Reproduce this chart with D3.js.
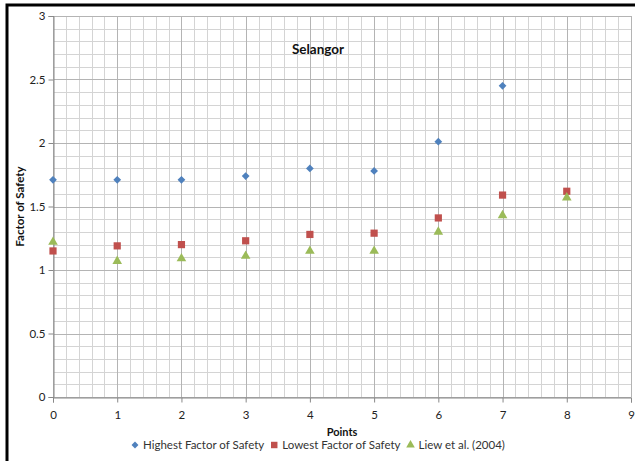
<!DOCTYPE html>
<html>
<head>
<meta charset="utf-8">
<script src="https://cdn.jsdelivr.net/npm/d3@7"></script>
<style>
  html, body { margin: 0; padding: 0; background: #fff; }
  svg { display: block; font-family: Lato, "Open Sans", sans-serif; }
</style>
</head>
<body>
<svg id="chart" width="635" height="461"></svg>
<script>
// Sample points along the survey line
const points = [0, 1, 2, 3, 4, 5, 6, 7, 8];
// Highest factor of safety (no value at point 8)
const highestFoS = [1.71, 1.71, 1.71, 1.74, 1.80, 1.78, 2.01, 2.45, null];
// Lowest factor of safety
const lowestFoS = [1.15, 1.19, 1.20, 1.23, 1.28, 1.29, 1.41, 1.59, 1.62];
// Liew et al. (2004)
const liewFoS = [1.22, 1.07, 1.09, 1.11, 1.15, 1.15, 1.30, 1.43, 1.57];

const xTicks = [0, 1, 2, 3, 4, 5, 6, 7, 8, 9];
const yTicks = [0, 0.5, 1, 1.5, 2, 2.5, 3];
const seriesNames = ["Highest Factor of Safety", "Lowest Factor of Safety", "Liew et al. (2004)"];

const svg = d3.select("#chart");
const plot = { left: 53, right: 631, top: 16, bottom: 397 };

const x = d3.scaleLinear().domain([0, 9]).range([plot.left, plot.right]);
const y = d3.scaleLinear().domain([0, 3]).range([plot.bottom, plot.top]);

// Chart frame (thick border along the top and left edge)
svg.append("rect").attr("x", 7).attr("y", 5).attr("width", 700).attr("height", 600)
  .attr("fill", "#fff").attr("stroke", "#000").attr("stroke-width", 3);

// Minor grid
const g = svg.append("g");
g.selectAll("line.vminor").data(d3.range(0, 9.0001, 0.2)).join("line")
  .attr("x1", d => Math.round(x(d)) + 0.5).attr("x2", d => Math.round(x(d)) + 0.5)
  .attr("y1", plot.top).attr("y2", plot.bottom)
  .attr("stroke", "#d4d4d4").attr("stroke-width", 1);
g.selectAll("line.hminor").data(d3.range(0, 3.0001, 0.1)).join("line")
  .attr("y1", d => Math.round(y(d)) + 0.5).attr("y2", d => Math.round(y(d)) + 0.5)
  .attr("x1", plot.left).attr("x2", plot.right)
  .attr("stroke", "#d4d4d4").attr("stroke-width", 1);
// Major grid
g.selectAll("line.vmajor").data(xTicks).join("line")
  .attr("x1", d => Math.round(x(d)) + 0.5).attr("x2", d => Math.round(x(d)) + 0.5)
  .attr("y1", plot.top).attr("y2", plot.bottom)
  .attr("stroke", "#b4b4b4").attr("stroke-width", 1);
g.selectAll("line.hmajor").data(yTicks).join("line")
  .attr("y1", d => Math.round(y(d)) + 0.5).attr("y2", d => Math.round(y(d)) + 0.5)
  .attr("x1", plot.left).attr("x2", plot.right)
  .attr("stroke", "#b4b4b4").attr("stroke-width", 1);

// Axes
const xAxis = svg.append("g").attr("transform", `translate(0,${Math.round(y(0)) + 0.5})`)
  .call(d3.axisBottom(x).tickValues(xTicks).tickSize(5).tickPadding(8).tickFormat(d3.format("d")));
const yAxis = svg.append("g").attr("transform", `translate(${Math.round(x(0)) + 0.5},0)`)
  .call(d3.axisLeft(y).tickValues(yTicks).tickSize(5).tickPadding(3).tickFormat(d => d));
[xAxis, yAxis].forEach(a => {
  a.select(".domain").attr("stroke", "#888");
  a.selectAll(".tick line").attr("stroke", "#888");
  a.selectAll(".tick text").attr("fill", "#222").attr("font-size", 11.5)
    .attr("font-family", "Lato, sans-serif");
});

// Markers: diamond is a square turned 45 degrees
const colors = ["#4f81bd", "#c0504d", "#9bbb59"];
const symbols = [d3.symbolSquare, d3.symbolSquare, d3.symbolTriangle];
const sizes = [30, 52, 40];
const rotations = [45, 0, 0];
const data = [highestFoS, lowestFoS, liewFoS];
data.forEach((vals, i) => {
  const pts = points.map((p, j) => ({ p, v: vals[j] })).filter(d => d.v != null);
  svg.append("g").selectAll("path").data(pts).join("path")
    .attr("d", d3.symbol().type(symbols[i]).size(sizes[i]))
    .attr("transform", d => `translate(${x(d.p)},${y(d.v)}) rotate(${rotations[i]})`)
    .attr("fill", colors[i]);
});

// Title
svg.append("text").attr("x", 318).attr("y", 54).attr("text-anchor", "middle")
  .attr("font-size", 13.5).attr("font-weight", "bold").attr("fill", "#111").text("Selangor");

// Axis titles
svg.append("text").attr("x", (plot.left + plot.right) / 2).attr("y", 436).attr("text-anchor", "middle")
  .attr("font-size", 11).attr("font-weight", "bold").attr("fill", "#111").text("Points");
svg.append("text").attr("transform", `translate(24,${(plot.top + plot.bottom) / 2}) rotate(-90)`)
  .attr("text-anchor", "middle").attr("font-size", 11.5).attr("font-weight", "bold")
  .attr("fill", "#111").text("Factor of Safety");

// Legend
const legend = svg.append("g").attr("transform", "translate(0,445)");
let lx = 131;
seriesNames.forEach((name, i) => {
  legend.append("path").attr("d", d3.symbol().type(symbols[i]).size(sizes[i] * 0.8))
    .attr("transform", `translate(${lx + 4},0) rotate(${rotations[i]})`)
    .attr("fill", colors[i]);
  const t = legend.append("text").attr("x", lx + 12).attr("y", 4)
    .attr("font-size", 11.5).attr("fill", "#333").text(name);
  lx += 12 + t.node().getComputedTextLength() + 6;
});
</script>
</body>
</html>
